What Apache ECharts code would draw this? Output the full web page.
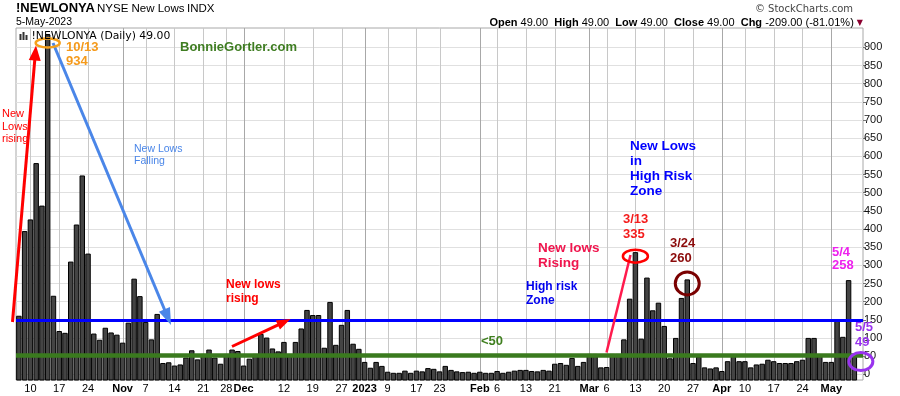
<!DOCTYPE html>
<html><head><meta charset="utf-8">
<script src="https://cdn.jsdelivr.net/npm/echarts@6/dist/echarts.min.js"></script>
<style>html,body{margin:0;padding:0;background:#fff}#c{width:900px;height:396px}</style>
</head><body><div id="c"></div>
<script>
// ---- data ----
const dates = [
 '2022-10-06','2022-10-07','2022-10-10','2022-10-11','2022-10-12','2022-10-13','2022-10-14','2022-10-17','2022-10-18','2022-10-19','2022-10-20','2022-10-21','2022-10-24','2022-10-25','2022-10-26','2022-10-27','2022-10-28','2022-10-31',
 '2022-11-01','2022-11-02','2022-11-03','2022-11-04','2022-11-07','2022-11-08','2022-11-09','2022-11-10','2022-11-11','2022-11-14','2022-11-15','2022-11-16','2022-11-17','2022-11-18','2022-11-21','2022-11-22','2022-11-23','2022-11-25','2022-11-28','2022-11-29','2022-11-30',
 '2022-12-01','2022-12-02','2022-12-05','2022-12-06','2022-12-07','2022-12-08','2022-12-09','2022-12-12','2022-12-13','2022-12-14','2022-12-15','2022-12-16','2022-12-19','2022-12-20','2022-12-21','2022-12-22','2022-12-23','2022-12-27','2022-12-28','2022-12-29','2022-12-30',
 '2023-01-03','2023-01-04','2023-01-05','2023-01-06','2023-01-09','2023-01-10','2023-01-11','2023-01-12','2023-01-13','2023-01-17','2023-01-18','2023-01-19','2023-01-20','2023-01-23','2023-01-24','2023-01-25','2023-01-26','2023-01-27','2023-01-30','2023-01-31',
 '2023-02-01','2023-02-02','2023-02-03','2023-02-06','2023-02-07','2023-02-08','2023-02-09','2023-02-10','2023-02-13','2023-02-14','2023-02-15','2023-02-16','2023-02-17','2023-02-21','2023-02-22','2023-02-23','2023-02-24','2023-02-27','2023-02-28',
 '2023-03-01','2023-03-02','2023-03-03','2023-03-06','2023-03-07','2023-03-08','2023-03-09','2023-03-10','2023-03-13','2023-03-14','2023-03-15','2023-03-16','2023-03-17','2023-03-20','2023-03-21','2023-03-22','2023-03-23','2023-03-24','2023-03-27','2023-03-28','2023-03-29','2023-03-30','2023-03-31',
 '2023-04-03','2023-04-04','2023-04-05','2023-04-06','2023-04-10','2023-04-11','2023-04-12','2023-04-13','2023-04-14','2023-04-17','2023-04-18','2023-04-19','2023-04-20','2023-04-21','2023-04-24','2023-04-25','2023-04-26','2023-04-27','2023-04-28',
 '2023-05-01','2023-05-02','2023-05-03','2023-05-04','2023-05-05'
];
const newLows = [
 160,393,425,580,463,934,215,118,113,309,411,546,331,111,94,127,114,108,
 86,141,262,214,143,95,165,30,32,23,26,45,65,40,55,67,45,28,55,67,63,
 23,42,55,110,100,70,62,88,55,88,125,176,162,162,72,198,80,135,176,83,69,
 33,17,33,22,6,3,3,9,3,9,7,16,14,7,22,11,7,5,6,3,
 6,3,3,8,3,6,9,11,11,8,7,11,9,28,30,25,44,22,33,
 55,55,18,19,55,55,95,207,335,97,265,175,196,132,43,99,209,260,30,48,18,15,18,
 8,35,52,35,35,18,26,28,39,35,30,30,30,35,39,99,99,52,33,
 33,149,102,258,49
];
const tickDates = ['2022-10-10','2022-10-17','2022-10-24','2022-11-01','2022-11-07','2022-11-14','2022-11-21','2022-11-28','2022-12-01','2022-12-12','2022-12-19','2022-12-27','2023-01-03','2023-01-09','2023-01-17','2023-01-23','2023-02-01','2023-02-06','2023-02-13','2023-02-21','2023-03-01','2023-03-06','2023-03-13','2023-03-20','2023-03-27','2023-04-03','2023-04-10','2023-04-17','2023-04-24','2023-05-01'];
const tickLabels = ['10','17','24','Nov','7','14','21','28','Dec','12','19','27','2023','9','17','23','Feb','6','13','21','Mar','6','13','20','27','Apr','10','17','24','May'];
const monthTickDates = ['2022-11-01','2022-12-01','2023-01-03','2023-02-01','2023-03-01','2023-04-03','2023-05-01'];
const yTickValues = [0,50,100,150,200,250,300,350,400,450,500,550,600,650,700,750,800,850,900];
const highRiskLevel = 150;
const lowZoneLevel = 52;

// ---- layout ----
const Y_MIN = -15.4, Y_MAX = 953;
const FONT = '"Liberation Sans", Arial, sans-serif';
const cats = dates.concat(['']);
const tickMap = {}; tickDates.forEach((d, i) => tickMap[d] = tickLabels[i]);
const monthSet = new Set(monthTickDates);
const labelIdx = new Set(tickDates.map(d => dates.indexOf(d)));

const chart = echarts.init(document.getElementById('c'));
const option = {
  animation: false,
  grid: [
    {left: 16, right: 37, top: 28, bottom: 16, show: true, borderColor: '#a8a8a8', borderWidth: 1, backgroundColor: 'transparent'},
    {left: 16, right: 37, top: 47.3, bottom: 21.6}
  ],
  xAxis: [
    {type: 'category', gridIndex: 0, data: cats, boundaryGap: true,
     axisLine: {show: false}, axisTick: {show: false}, splitLine: {show: false},
     axisLabel: {interval: (i) => labelIdx.has(i), margin: 3, fontSize: 11, color: '#000', fontFamily: FONT,
       formatter: v => monthSet.has(v) ? '{b|' + tickMap[v] + '}' : (tickMap[v] || ''),
       rich: {b: {fontWeight: 'bold', fontSize: 11, color: '#000', fontFamily: FONT}}}},
    {type: 'category', gridIndex: 1, data: cats, show: false}
  ],
  yAxis: [
    {type: 'value', gridIndex: 0, min: Y_MIN, max: Y_MAX, show: false, splitLine: {show: false}},
    {type: 'value', gridIndex: 1, position: 'right', min: yTickValues[0], max: yTickValues[yTickValues.length - 1], interval: 50,
     axisLine: {show: false}, axisTick: {show: true, length: 3, lineStyle: {color: '#777'}},
     axisLabel: {margin: 1, fontSize: 11, color: '#111', fontFamily: FONT},
     splitLine: {show: true, lineStyle: {color: '#e0e0e0', width: 1}}}
  ],
  series: [
    {type: 'custom', xAxisIndex: 0, yAxisIndex: 0, z: 2,
     data: newLows.map((v, i) => [i, v]),
     encode: {x: 0, y: 1},
     renderItem: function (params, api) {
       const i = api.value(0), v = api.value(1);
       const top = api.coord([i, v]);
       const bot = api.coord([i, Y_MIN]);
       const w = api.size([1, 0])[0];
       const bw = w - 1.3;
       return {type: 'rect', shape: {x: top[0] - bw / 2, y: top[1], width: bw, height: bot[1] - top[1]},
               style: {fill: '#444444', stroke: '#000', lineWidth: 1}};
     }},
    {type: 'line', xAxisIndex: 0, yAxisIndex: 0, data: [], z: 4,
     markLine: {silent: true, symbol: 'none', animation: false, label: {show: false},
       data: [
         {yAxis: highRiskLevel, lineStyle: {color: '#0000ff', width: 3, type: 'solid'}},
         {yAxis: lowZoneLevel, lineStyle: {color: '#3a7a1e', width: 4.5, type: 'solid'}}
       ]}}
  ]
};
chart.setOption(option);

// ---- annotations ----
const P = (d, v) => chart.convertToPixel({gridIndex: 0}, [d, v]);
function txt(x, y, text, color, font, extra) {
  return Object.assign({type: 'text', x: x, y: y, z: 20, silent: true,
    style: Object.assign({text: text, fill: color, font: font, verticalAlign: 'middle', align: 'left'}, extra || {})});
}
function arrow(x1, y1, x2, y2, color, lw, hl, hw) {
  const dx = x2 - x1, dy = y2 - y1, L = Math.hypot(dx, dy), ux = dx / L, uy = dy / L;
  const bx = x2 - ux * hl, by = y2 - uy * hl, px = -uy, py = ux;
  return [
    {type: 'line', z: 15, silent: true, shape: {x1: x1, y1: y1, x2: bx + ux, y2: by + uy}, style: {stroke: color, lineWidth: lw}},
    {type: 'polygon', z: 15, silent: true, shape: {points: [[x2, y2], [bx + px * hw / 2, by + py * hw / 2], [bx - px * hw / 2, by - py * hw / 2]]}, style: {fill: color}}
  ];
}
function ell(c, dx, dy, rx, ry, color, lw) {
  return {type: 'ellipse', z: 16, silent: true, shape: {cx: c[0] + dx, cy: c[1] + dy, rx: rx, ry: ry}, style: {fill: 'none', stroke: color, lineWidth: lw}};
}
const n = newLows.length;
const last = newLows[n - 1], prev = newLows[n - 2];
const chg = last - prev, pct = chg / prev * 100;
const f2 = v => v.toFixed(2);

// vertical grid lines at labelled days (crisp, through the category centres)
const topY = P(dates[0], Y_MAX)[1], botY = P(dates[0], Y_MIN)[1];
const vlines = tickDates.map(d => {
  const x = Math.round(P(d, 0)[0]) + 0.5;
  return {type: 'line', z: 1, silent: true, shape: {x1: x, y1: topY, x2: x, y2: botY},
          style: {stroke: monthSet.has(d) ? '#a8a8a8' : '#c8c8c8', lineWidth: 1}};
});

const pk = P('2022-10-13', 934), m13 = P('2023-03-13', 335), m24 = P('2023-03-24', 260), my5 = P('2023-05-05', 49);

const g = vlines.concat([
  txt(16, 8.5, '!NEWLONYA', '#000', 'bold 13px ' + FONT),
  txt(97, 9, 'NYSE New Lows', '#000', '11.5px ' + FONT),
  txt(187, 9, 'INDX', '#000', '11.5px ' + FONT),
  txt(16, 22.5, '5-May-2023', '#000', '10.5px ' + FONT),
  txt(853, 9.5, '\u00A9 StockCharts.com', '#444', '10px "DejaVu Sans", sans-serif', {align: 'right'}),
  {type: 'text', x: 863, y: 23, z: 20, silent: true, style: {
    text: '{b|Open} ' + f2(last) + '  {b|High} ' + f2(last) + '  {b|Low} ' + f2(last) + '  {b|Close} ' + f2(last) + '  {b|Chg} ' + f2(chg) + ' (' + f2(pct) + '%) {t|\u25BC}',
    font: '11px ' + FONT, fill: '#000', align: 'right', verticalAlign: 'middle',
    rich: {b: {font: 'bold 11px ' + FONT, fill: '#000'}, t: {font: '8px "DejaVu Sans"', fill: '#8b0030'}}}},
  {type: 'rect', z: 20, silent: true, shape: {x: 19.5, y: 34, width: 2, height: 6}, style: {fill: '#333'}},
  {type: 'rect', z: 20, silent: true, shape: {x: 22.5, y: 32, width: 2, height: 8}, style: {fill: '#333'}},
  {type: 'rect', z: 20, silent: true, shape: {x: 25.5, y: 35, width: 2, height: 5}, style: {fill: '#333'}},
  txt(31.5, 36, '!NEWLONYA (Daily) ' + f2(last), '#000', '10.8px "DejaVu Sans", sans-serif'),
  txt(180, 47.5, 'BonnieGortler.com', '#3f7d22', 'bold 13px ' + FONT),
  txt(66, 47.5, '10/13', '#f59a1b', 'bold 13px ' + FONT),
  txt(66, 61.5, String(934), '#f59a1b', 'bold 13px ' + FONT),
  txt(2, 114, 'New', '#ff0000', '11px ' + FONT),
  txt(2, 126.5, 'Lows', '#ff0000', '11px ' + FONT),
  txt(2, 138.5, 'rising', '#ff0000', '11px ' + FONT),
  txt(134, 149, 'New Lows', '#4a86e8', '10.5px ' + FONT),
  txt(134, 161, 'Falling', '#4a86e8', '10.5px ' + FONT),
  txt(226, 284.5, 'New lows', '#ff0000', 'bold 12px ' + FONT),
  txt(226, 298.5, 'rising', '#ff0000', 'bold 12px ' + FONT),
  txt(481, 341.5, '<50', '#3f7f1f', 'bold 13px ' + FONT),
  txt(526, 287, 'High risk', '#0000ee', 'bold 12px ' + FONT),
  txt(526, 301, 'Zone', '#0000ee', 'bold 12px ' + FONT),
  txt(538, 248.5, 'New lows', '#f0164e', 'bold 13.5px ' + FONT),
  txt(538, 263, 'Rising', '#f0164e', 'bold 13.5px ' + FONT),
  txt(630, 146, 'New Lows', '#0000ff', 'bold 13.5px ' + FONT),
  txt(630, 161, 'in', '#0000ff', 'bold 13.5px ' + FONT),
  txt(630, 176, 'High Risk', '#0000ff', 'bold 13.5px ' + FONT),
  txt(630, 191, 'Zone', '#0000ff', 'bold 13.5px ' + FONT),
  txt(623, 219, '3/13', '#f41c1c', 'bold 13px ' + FONT),
  txt(623, 234, '335', '#f41c1c', 'bold 13px ' + FONT),
  txt(670, 243.5, '3/24', '#8b0a0a', 'bold 13px ' + FONT),
  txt(670, 258.5, '260', '#8b0a0a', 'bold 13px ' + FONT),
  txt(832, 252, '5/4', '#ee22ee', 'bold 13px ' + FONT),
  txt(832, 265.5, '258', '#ee22ee', 'bold 13px ' + FONT),
  txt(855, 327, '5/5', '#9933ee', 'bold 13px ' + FONT),
  txt(855, 342, '49', '#9933ee', 'bold 13px ' + FONT),
  ell(pk, 0, 8, 12, 4.5, '#f5a01c', 2.5),
  ell(m13, 0, 3.5, 12.5, 6.5, '#ff0000', 2.5),
  ell(m24, 0, 3.5, 12, 11.5, '#7a0000', 3),
  ell(my5, 6.5, 5, 12, 9, '#9933ee', 3),
  {type: 'line', z: 15, silent: true, shape: {x1: 606.5, y1: 352.5, x2: 630.5, y2: 255}, style: {stroke: '#ff1a4d', lineWidth: 2.5}}
]).concat(
  arrow(12.5, 322, 36, 45.5, '#ff0000', 3, 15, 12),
  arrow(53, 43, 171, 325, '#4a86e8', 3, 17, 12),
  arrow(232, 346.5, 290.5, 319, '#ff0000', 3, 14, 10)
);
chart.setOption({graphic: g});
</script>
</body></html>
